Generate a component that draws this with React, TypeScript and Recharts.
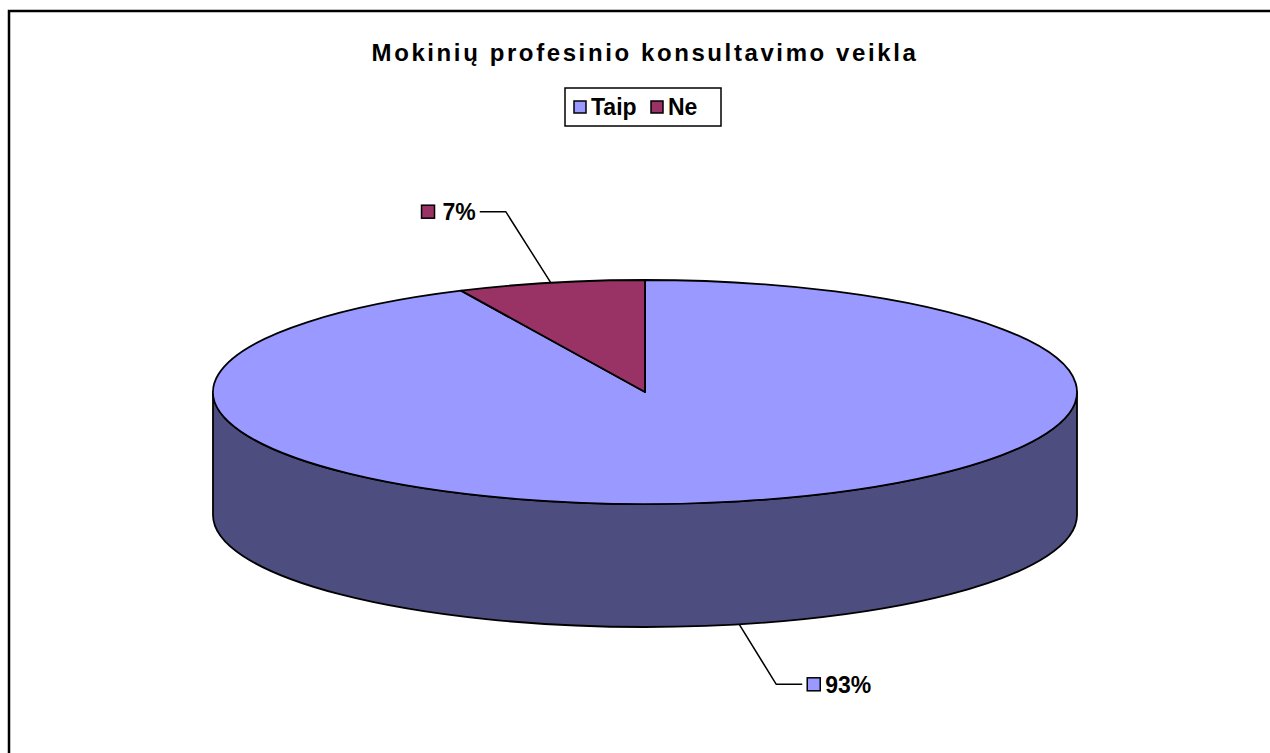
import React from 'react';
import { PieChart, Pie, Cell } from 'recharts';

// chart data
const categories = ['Taip', 'Ne'];
const shares = [93, 7];
const percentLabels = ['93%', '7%'];
const chartTitle = 'Mokinių profesinio konsultavimo veikla';

const TOP_COLORS = ['#9999FF', '#993366'];
const SIDE_COLORS = ['#4D4D80', '#4D1A33'];

const W = 1270;
const H = 753;
const CX = 645;
const CY = 392;
const RX = 432;
const RY = 112;
const DEPTH = 123;
const FLAT = RY / RX;
const FONT = 'Arial, "Liberation Sans", sans-serif';
const RAD = Math.PI / 180;

const data = categories.map((name, i) => ({ name, value: shares[i] }));

const pt = (cx: number, cy: number, rx: number, ry: number, a: number): [number, number] => [
  cx + rx * Math.cos(a * RAD),
  cy - ry * Math.sin(a * RAD),
];

// draws one slice as a tilted (elliptical) wedge plus its visible front wall
const Slice3D = (props: any) => {
  const { cx, cy, outerRadius, startAngle, endAngle } = props;
  const name = props.name ?? props.payload?.name;
  const i = Math.max(0, categories.indexOf(name));
  const rx = outerRadius;
  const ry = outerRadius * FLAT;

  const lo = Math.min(startAngle, endAngle);
  const hi = Math.max(startAngle, endAngle);
  const walls: string[] = [];
  for (let k = -2; k <= 2; k++) {
    const s = Math.max(lo, 180 + 360 * k);
    const e = Math.min(hi, 360 + 360 * k);
    if (e > s) {
      const [x1, y1] = pt(cx, cy, rx, ry, s);
      const [x2, y2] = pt(cx, cy, rx, ry, e);
      walls.push(
        `M${x1},${y1} A${rx},${ry} 0 0 0 ${x2},${y2} L${x2},${y2 + DEPTH} A${rx},${ry} 0 0 1 ${x1},${y1 + DEPTH} Z`
      );
    }
  }

  const [sx, sy] = pt(cx, cy, rx, ry, startAngle);
  const [ex, ey] = pt(cx, cy, rx, ry, endAngle);
  const large = hi - lo > 180 ? 1 : 0;
  const sweep = endAngle < startAngle ? 1 : 0;
  const top = `M${cx},${cy} L${sx},${sy} A${rx},${ry} 0 ${large} ${sweep} ${ex},${ey} Z`;

  return (
    <g>
      {walls.map((d, j) => (
        <path key={j} d={d} fill={SIDE_COLORS[i]} stroke="#000" strokeWidth={1.8} strokeLinejoin="round" />
      ))}
      <path d={top} fill={TOP_COLORS[i]} stroke="#000" strokeWidth={1.8} strokeLinejoin="round" />
    </g>
  );
};

const charW: Record<string, number> = { '%': 0.889 };
const textWidth = (s: string, size: number) =>
  s.split('').reduce((sum, c) => sum + (charW[c] ?? 0.556), 0) * size;

const LABEL_SIZE = 23;

const renderLabel = (props: any) => {
  const { cx, cy, midAngle, outerRadius, name } = props;
  const i = Math.max(0, categories.indexOf(name));
  const rx = outerRadius;
  const ry = outerRadius * FLAT;
  let [x, y] = pt(cx, cy, rx, ry, midAngle);
  const lower = Math.sin(midAngle * RAD) < 0;
  if (lower) y += DEPTH;
  const dir = Math.cos(midAngle * RAD) >= 0 ? 1 : -1;
  const bx = x + dir * (lower ? 37 : 45);
  const by = y + (lower ? 60 : -71);
  const hx = bx + dir * 26;
  const text = percentLabels[i];
  const tw = textWidth(text, LABEL_SIZE);
  const box = 13;
  const textX = dir > 0 ? hx + 5 + box + 5 : hx - 4;
  const boxX = dir > 0 ? hx + 5 : hx - 4 - tw - 8 - box;
  return (
    <g key={`lbl-${i}`}>
      <polyline points={`${x},${y} ${bx},${by} ${hx},${by}`} fill="none" stroke="#000" strokeWidth={1.5} />
      <rect x={boxX} y={by - box / 2} width={box} height={box} fill={TOP_COLORS[i]} stroke="#000" strokeWidth={1.5} />
      <text
        x={textX}
        y={by + LABEL_SIZE * 0.36}
        textAnchor={dir > 0 ? 'start' : 'end'}
        fontFamily={FONT}
        fontWeight="bold"
        fontSize={LABEL_SIZE}
        fill="#000"
      >
        {text}
      </text>
    </g>
  );
};

const App: React.FC = () => {
  return (
    <div style={{ position: 'absolute', left: 0, top: 0, width: W, height: H, background: '#fff', overflow: 'hidden' }}>
      <PieChart width={W} height={H} margin={{ top: 0, right: 0, bottom: 0, left: 0 }}>
        <Pie
          data={data}
          dataKey="value"
          nameKey="name"
          cx={CX}
          cy={CY}
          outerRadius={RX}
          startAngle={90}
          endAngle={-270}
          stroke="none"
          shape={Slice3D}
          activeShape={Slice3D}
          inactiveShape={Slice3D}
          label={renderLabel}
          labelLine={false}
          isAnimationActive={false}
        >
          {data.map((d, i) => (
            <Cell key={d.name} fill={TOP_COLORS[i]} />
          ))}
        </Pie>
      </PieChart>
      <svg width={W} height={H} style={{ position: 'absolute', left: 0, top: 0, pointerEvents: 'none' }}>
        <path d={`M9,${H} L9,11 L${W},11`} fill="none" stroke="#000" strokeWidth={2.5} />
        <text
          x={CX}
          y={61}
          textAnchor="middle"
          fontFamily={FONT}
          fontWeight="bold"
          fontSize={24}
          letterSpacing={2.6}
          fill="#000"
        >
          {chartTitle}
        </text>
        <rect x={565} y={88} width={156} height={38} fill="#fff" stroke="#000" strokeWidth={1.5} />
        {categories.map((c, i) => {
          const x0 = i === 0 ? 574 : 651;
          return (
            <g key={c}>
              <rect x={x0} y={101} width={12} height={12} fill={TOP_COLORS[i]} stroke="#000" strokeWidth={1.5} />
              <text x={x0 + 17} y={115} fontFamily={FONT} fontWeight="bold" fontSize={23} fill="#000">
                {c}
              </text>
            </g>
          );
        })}
      </svg>
    </div>
  );
};

export default App;
